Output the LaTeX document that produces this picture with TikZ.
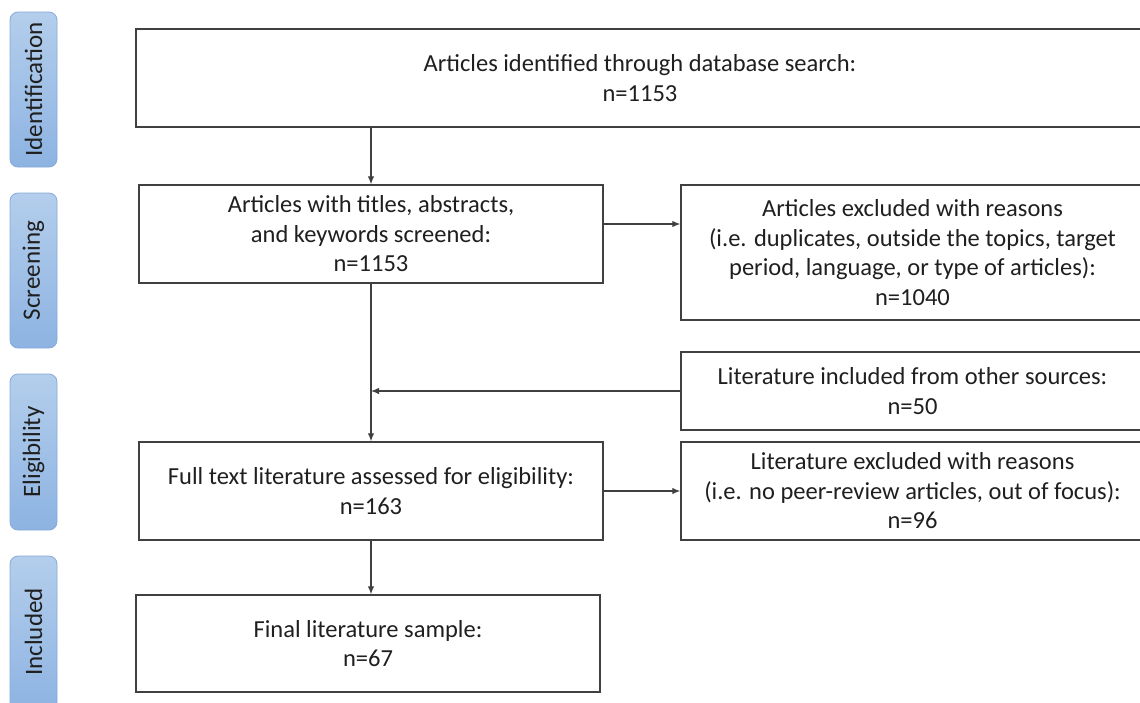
\documentclass[tikz,border=0pt]{standalone}
\usepackage{fontspec}
\setmainfont{Carlito}
\usetikzlibrary{arrows.meta,calc}
\definecolor{boxline}{HTML}{404040}
\definecolor{bartop}{HTML}{B4CEEC}
\definecolor{barbot}{HTML}{8DB3E2}
\definecolor{barline}{HTML}{86AADA}
\begin{document}
\begin{tikzpicture}[x=1pt,y=-1pt,
  box/.style={draw=boxline,line width=1.4pt,rectangle,align=center,inner sep=0pt,
    font=\fontsize{24.5}{29.5}\selectfont,text=black!88},
  stagebar/.style={draw=barline,line width=0.8pt,rounded corners=8pt,top color=bartop,bottom color=barbot},
  stagetext/.style={rotate=90,font=\fontsize{25}{30}\selectfont,text=black!88},
  conn/.style={draw=boxline,line width=1.2pt,-{Latex[length=8pt,width=6.5pt]}}]
\useasboundingbox (0,0) rectangle (1140,702);
\clip (0,0) rectangle (1140,702);
\fill[white] (0,0) rectangle (1140,702);
% stage bars
\draw[stagebar] (10,12) rectangle (57,167);
\node[stagetext] (lid) at (33.5,89.5) {Identification};
\draw[stagebar] (10,193) rectangle (57,348);
\node[stagetext] (lsc) at (33.5,270.5) {Screening};
\draw[stagebar] (10,374) rectangle (57,530);
\node[stagetext] (lel) at (33.5,452) {Eligibility};
\draw[stagebar] (10,556) rectangle (57,712);
\node[stagetext] (lin) at (33.5,632) {Included};
% boxes
\node[box,minimum width=1008pt,minimum height=98pt] (top) at (640,78) {Articles identified through database search:\\n=1153};
\node[box,minimum width=464pt,minimum height=98pt] (scr) at (371,234) {Articles with titles, abstracts,\\and keywords screened:\\n=1153};
\node[box,minimum width=463pt,minimum height=135pt] (exc) at (912.5,252.5) {Articles excluded with reasons\\(i.e. duplicates, outside the topics, target\\period, language, or type of articles):\\n=1040};
\node[box,minimum width=463pt,minimum height=78pt] (oth) at (912.5,391) {Literature included from other sources:\\n=50};
\node[box,minimum width=464pt,minimum height=98pt] (eli) at (371,491) {Full text literature assessed for eligibility:\\n=163};
\node[box,minimum width=463pt,minimum height=98pt] (exc2) at (912.5,491) {Literature excluded with reasons\\(i.e. no peer-review articles, out of focus):\\n=96};
\node[box,minimum width=464pt,minimum height=97pt] (fin) at (368,643.5) {Final literature sample:\\n=67};
% connectors
\coordinate (scrout) at ($(scr.east)+(0,-10)$);
\draw[conn] (top.south -| scr.north) -- (scr.north);
\draw[conn] (scr.south) -- (eli.north);
\draw[conn] (scrout) -- (scrout -| exc.west);
\draw[conn] (oth.west) -- (oth.west -| scr.south);
\draw[conn] (eli.east) -- (exc2.west);
\draw[conn] (eli.south) -- (eli.south |- fin.north);
\end{tikzpicture}
\end{document}
